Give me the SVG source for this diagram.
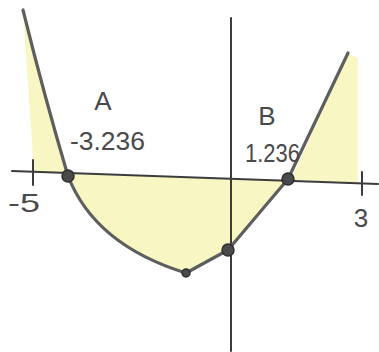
<svg xmlns="http://www.w3.org/2000/svg" width="379" height="352" viewBox="0 0 379 352">
<style>
.fill{fill:#f8f7c4;stroke:none}
.axis{stroke:#3c3c3c;stroke-width:2;fill:none;stroke-linecap:round}
.curve{stroke:#5e5e5e;stroke-width:3.2;fill:none;stroke-linejoin:round;stroke-linecap:round}
.dot{fill:#4a4a4a;stroke:#2e2e2e;stroke-width:1.5}
.lbl{font-family:"Liberation Sans",Arial,sans-serif;fill:#4a4a4a;font-size:26px}
</style>
<rect width="379" height="352" fill="#ffffff"/>
<g id="shading">
<path class="fill" d="M23,12 Q44,95 66,172 L34,172 Z"/>
<path class="fill" d="M68,174 Q95,245 186,273 L228,250 L288,180 Z"/>
<path class="fill" d="M348,53 L358,58 L358,183 L291,180 Z"/>
</g>
<g id="axes">
<line class="axis" x1="12" y1="171" x2="378" y2="184"/>
<line class="axis" x1="231" y1="18" x2="231" y2="351"/>
<line class="axis" x1="33" y1="160" x2="33" y2="185"/>
<line class="axis" x1="362" y1="172" x2="362" y2="195"/>
</g>
<g id="curve">
<path class="curve" d="M23,10 Q44,95 68,176 Q95,245 186,273 L228,250 L288,179 L348,53"/>
</g>
<g id="points">
<circle id="A" class="dot" cx="68" cy="176" r="6"/>
<circle id="B" class="dot" cx="288" cy="179" r="6"/>
<circle id="vertex" class="dot" cx="186" cy="273" r="4"/>
<circle id="yint" class="dot" cx="228" cy="250" r="6"/>
</g>
<g id="labels">
<text class="lbl" x="103" y="110" text-anchor="middle">A</text>
<text class="lbl" x="70" y="150" textLength="75" lengthAdjust="spacingAndGlyphs">-3.236</text>
<text class="lbl" x="267" y="125" text-anchor="middle" font-size="30">B</text>
<text class="lbl" x="245" y="162" textLength="55" lengthAdjust="spacingAndGlyphs">1.236</text>
<text class="lbl" x="8" y="212" textLength="32" lengthAdjust="spacingAndGlyphs">-5</text>
<text class="lbl" x="361" y="227" text-anchor="middle">3</text>
</g>
</svg>
